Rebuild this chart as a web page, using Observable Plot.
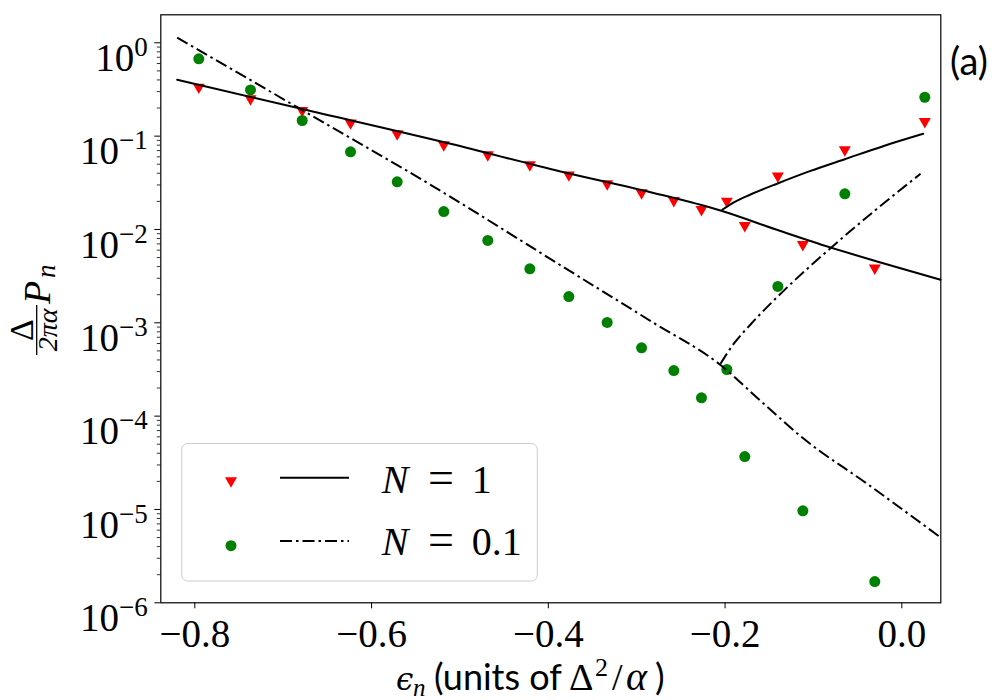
<!DOCTYPE html>
<html>
<head>
<meta charset="utf-8">
<script src="https://cdn.jsdelivr.net/npm/d3@7"></script>
<script src="https://cdn.jsdelivr.net/npm/@observablehq/plot@0.6"></script>
<style>
  html, body { margin: 0; padding: 0; background: #fff; }
  .serif, .serif tspan { font-family: "Liberation Serif", "Times New Roman", serif !important; }
  .sans { font-family: Lato, "Open Sans", sans-serif !important; }
</style>
</head>
<body>
<div id="chart"></div>
<script>
// ---- data ----
const energies = [-0.7955, -0.7370, -0.6785, -0.6238, -0.5710, -0.5183, -0.4685, -0.4209, -0.3768, -0.3334,
                  -0.2945, -0.2580, -0.2267, -0.1980, -0.1777, -0.1403, -0.1120, -0.0645, -0.0306, 0.0260];
const pN1  = [0.321, 0.241, 0.181, 0.133, 0.1015, 0.0774, 0.0605, 0.0473, 0.0369, 0.0296,
              0.0237, 0.0196, 0.0157, 0.0193, 0.01057, 0.0358, 0.00662, 0.0685, 0.0037, 0.1376];
const pN01 = [0.674, 0.313, 0.147, 0.0679, 0.0324, 0.01557, 0.00762, 0.00379, 0.00191, 0.00101,
              0.00054, 0.000308, 0.000157, 0.000316, 3.69e-5, 0.00245, 9.68e-6, 0.0241, 1.69e-6, 0.261];

// theory curves, N = 1 (solid)
const fitN1MainX   = [-0.82, -0.6785, -0.5107, -0.3862, -0.2844, -0.2052, -0.1373, -0.0807, -0.0241, 0.0438];
const fitN1MainY   = [0.402, 0.195, 0.0828, 0.0418, 0.0251, 0.01596, 0.00962, 0.00641, 0.00443, 0.00289];
const fitN1BranchX = [-0.2032, -0.1901, -0.1712, -0.1399, -0.1033, -0.0645, -0.0204, 0.0242];
const fitN1BranchY = [0.01625, 0.0195, 0.02371, 0.0313, 0.04241, 0.0566, 0.0785, 0.1059];
// theory curves, N = 0.1 (dash-dot)
const fitN01MainX   = [-0.82, -0.6841, -0.5333, -0.3749, -0.2825, -0.2052, -0.1599, -0.1109, -0.0391, 0.0419];
const fitN01MainY   = [1.137, 0.204, 0.0301, 0.00355, 0.00102, 0.000353, 0.000146, 5.71e-5, 1.88e-5, 5.17e-6];
const fitN01BranchX = [-0.2052, -0.1901, -0.1712, -0.1335, -0.0807, -0.0278, 0.0212];
const fitN01BranchY = [3.64e-4, 5.97e-4, 9.59e-4, 2.213e-3, 6.30e-3, 0.01674, 0.0395];

const xTicks = [-0.8, -0.6, -0.4, -0.2, 0.0];
const yTicks = [1e-6, 1e-5, 1e-4, 1e-3, 1e-2, 1e-1, 1];
const xDomain = [-0.8385, 0.0441];
const yDomain = [1e-6, 1.995];
const legendLabels = ["1", "0.1"];

// ---- build ----
const yMinor = [];
for (let e = -6; e <= 0; e++) for (let m = 2; m <= 9; m++) { const v = m * Math.pow(10, e); if (v < yDomain[1]) yMinor.push(v); }

const points = energies.map((e, i) => ({e, p1: pN1[i], p01: pN01[i]}));
const pairs = (xs, ys) => xs.map((x, i) => ({x, y: ys[i]}));
const DASHDOT = "12,4,2.5,4";
const serif = "Liberation Serif";

const chart = Plot.plot({
  width: 1000, height: 700,
  marginLeft: 160.3, marginRight: 59.7, marginTop: 14.3, marginBottom: 97.7,
  x: {domain: xDomain},
  y: {type: "log", domain: yDomain},
  style: {background: "white", color: "black"},
  marks: [
    Plot.axisX(xTicks, {tickSize: 6, tickPadding: 10, fontSize: 39, fontFamily: serif, strokeWidth: 1,
      tickFormat: d => (d < 0 ? "\u2212" : "") + Math.abs(d).toFixed(1), label: null}),
    Plot.axisY(yMinor, {tickSize: 3.5, strokeWidth: 0.8, tickFormat: () => "", label: null}),
    Plot.axisY(yTicks, {tickSize: 6, tickPadding: 7, fontSize: 39, fontFamily: serif, strokeWidth: 1,
      tickFormat: d => "10^" + Math.round(Math.log10(d)), label: null}),
    Plot.dot(points, {x: "e", y: "p1", symbol: "triangle", rotate: 180, r: 4.45, dy: -1.7, fill: "red", stroke: "none"}),
    Plot.dot(points, {x: "e", y: "p01", symbol: "circle", r: 5.5, fill: "green", stroke: "none"}),
    Plot.line(pairs(fitN1MainX, fitN1MainY), {x: "x", y: "y", stroke: "black", strokeWidth: 2, curve: "monotone-x"}),
    Plot.line(pairs(fitN1BranchX, fitN1BranchY), {x: "x", y: "y", stroke: "black", strokeWidth: 2, curve: "monotone-x"}),
    Plot.line(pairs(fitN01MainX, fitN01MainY), {x: "x", y: "y", stroke: "black", strokeWidth: 2, strokeDasharray: DASHDOT, strokeLinecap: "butt", curve: "monotone-x"}),
    Plot.line(pairs(fitN01BranchX, fitN01BranchY), {x: "x", y: "y", stroke: "black", strokeWidth: 2, strokeDasharray: DASHDOT, strokeLinecap: "butt", curve: "monotone-x"}),
    Plot.frame({stroke: "black", strokeWidth: 1.2})
  ]
});

document.getElementById("chart").appendChild(chart);
const svg = d3.select(chart);

// tick labels: serif font, superscript exponents on y
svg.selectAll("text").each(function() {
  const txt = this.textContent;
  const m = /^10\^(-?\d+)$/.exec(txt);
  if (m) {
    const sel = d3.select(this).classed("serif", true);
    sel.text("10").attr("dy", "0.4em");
    sel.append("tspan").attr("font-size", 27).attr("dy", -15).text(m[1].replace("-", "\u2212"));
  } else if (/^\u2212?0\.\d$/.test(txt)) {
    d3.select(this).classed("serif", true);
  }
});

// y label: Δ/(2πα) P_n
const yl = svg.append("g").attr("transform", "translate(36.7,330) rotate(-90)").attr("fill", "black");
yl.append("line").attr("x1", -25).attr("x2", 25).attr("y1", 0).attr("y2", 0).attr("stroke", "black").attr("stroke-width", 1.3);
yl.append("text").attr("class", "serif").attr("x", 0).attr("y", -4).attr("text-anchor", "middle").attr("font-size", 34).text("\u0394");
yl.append("text").attr("class", "serif").attr("x", 0).attr("y", 20).attr("text-anchor", "middle").attr("font-size", 28).attr("font-style", "italic").text("2\u03c0\u03b1");
const pn = yl.append("text").attr("class", "serif").attr("y", 13).attr("font-size", 38).attr("font-style", "italic").attr("text-anchor", "start");
pn.append("tspan").attr("x", 26).text("P");
pn.append("tspan").attr("x", 52).attr("y", 18).attr("font-size", 27).text("n");

// x label: ϵ_n (units of Δ²/α)
const xl = svg.append("text").attr("y", 690).attr("text-anchor", "start").attr("fill", "black").attr("font-size", 36);
xl.append("tspan").attr("x", 396).attr("font-family", "DejaVu Serif").attr("font-style", "italic").attr("font-size", 31).text("\u03f5");
xl.append("tspan").attr("x", 413).attr("font-family", serif).attr("font-style", "italic").attr("font-size", 25).attr("dy", 6).text("n");
xl.append("tspan").attr("x", 434).attr("class", "sans").attr("dy", -6).text("(units of");
xl.append("tspan").attr("x", 569).attr("font-family", serif).attr("font-size", 38).text("\u0394");
xl.append("tspan").attr("x", 595).attr("font-family", serif).attr("font-size", 26).attr("dy", -14).text("2");
xl.append("tspan").attr("x", 612).attr("font-family", serif).attr("font-size", 38).attr("dy", 14).text("/");
xl.append("tspan").attr("x", 626).attr("font-family", serif).attr("font-style", "italic").attr("font-size", 40).text("\u03b1");
xl.append("tspan").attr("x", 655).attr("class", "sans").text(")");

// panel tag
svg.append("text").attr("class", "sans").attr("x", 969).attr("y", 75).attr("text-anchor", "middle").attr("font-size", 38).attr("fill", "black").text("(a)");

// legend
const lg = svg.append("g");
lg.append("rect").attr("x", 181.7).attr("y", 443.5).attr("width", 355.6).attr("height", 137.5).attr("rx", 6)
  .attr("fill", "white").attr("fill-opacity", 0.8).attr("stroke", "#cccccc").attr("stroke-width", 1);
lg.append("path").attr("d", d3.symbol(d3.symbolTriangle, Math.PI * 4.45 * 4.45)())
  .attr("transform", "translate(231,480.8) rotate(180)").attr("fill", "red");
lg.append("circle").attr("cx", 231).attr("cy", 545.7).attr("r", 5.5).attr("fill", "green");
lg.append("line").attr("x1", 280).attr("x2", 349).attr("y1", 477.7).attr("y2", 477.7).attr("stroke", "black").attr("stroke-width", 2);
lg.append("line").attr("x1", 280).attr("x2", 349).attr("y1", 541).attr("y2", 541).attr("stroke", "black").attr("stroke-width", 2)
  .attr("stroke-dasharray", DASHDOT);
[[493.3, legendLabels[0]], [555, legendLabels[1]]].forEach(([y, v]) => {
  const t = lg.append("text").attr("class", "serif").attr("y", y).attr("font-size", 40).attr("fill", "black").attr("text-anchor", "start");
  t.append("tspan").attr("x", 381.7).attr("font-style", "italic").text("N");
  t.append("tspan").attr("x", 428).attr("font-size", 46).text("=");
  t.append("tspan").attr("x", 471.7).attr("font-size", 40).text(v);
});
</script>
</body>
</html>
